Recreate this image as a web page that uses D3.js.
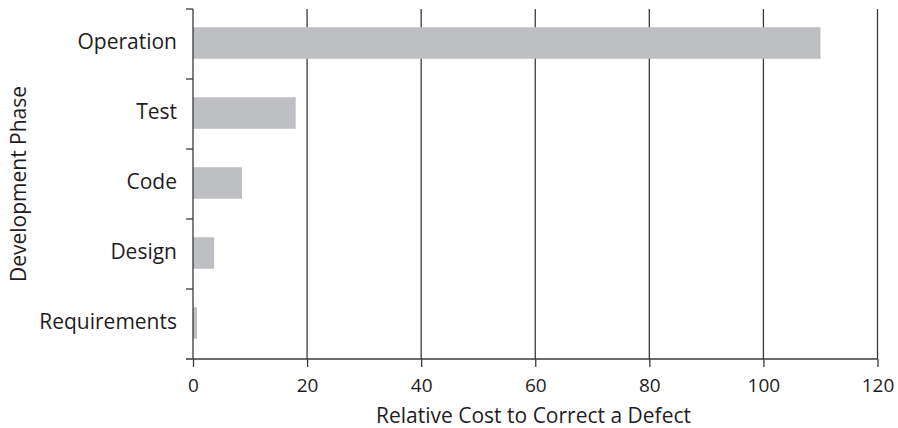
<!DOCTYPE html>
<html>
<head>
<meta charset="utf-8">
<script src="https://cdn.jsdelivr.net/npm/d3@7"></script>
<style>
	body { margin: 0; background: #fff; }
	text { font-family: "Open Sans", sans-serif; fill: #1f1d1e; }
</style>
</head>
<body>
<script>
	const phases = ["Operation", "Test", "Code", "Design", "Requirements"];
	const costs = [110, 18, 8.6, 3.7, 0.7];
	const xTicks = [0, 20, 40, 60, 80, 100, 120];

	const width = 898;
	const height = 428;
	const plotLeft = 193, plotRight = 877.5, plotTop = 9, plotBottom = 359;

	const svg = d3.select("body")
		.append("svg")
		.attr("width", width)
		.attr("height", height);

	const xScale = d3.scaleLinear()
		.domain([0, 120])
		.range([plotLeft, plotRight]);

	const yScale = d3.scaleBand()
		.domain(phases)
		.range([plotTop, plotBottom])
		.paddingInner(0.55)
		.paddingOuter(0.275);

	const lineColor = "#3a3a3a";

	//vertical gridlines
	svg.selectAll("line.grid")
		.data(xTicks.slice(1))
		.enter()
		.append("line")
		.attr("class", "grid")
		.attr("x1", d => xScale(d))
		.attr("x2", d => xScale(d))
		.attr("y1", plotTop)
		.attr("y2", plotBottom)
		.attr("stroke", lineColor)
		.attr("stroke-width", 1.3);

	//bars
	svg.selectAll("rect")
		.data(phases)
		.enter()
		.append("rect")
		.attr("x", xScale(0))
		.attr("y", d => yScale(d) - 1)
		.attr("width", (d, i) => xScale(costs[i]) - xScale(0))
		.attr("height", yScale.bandwidth())
		.attr("fill", "#bebfc2");

	//x axis
	const xAxis = svg.append("g")
		.attr("transform", "translate(0," + plotBottom + ")")
		.call(d3.axisBottom(xScale).tickValues(xTicks).tickSize(8).tickPadding(11.5).tickSizeOuter(0));
	xAxis.select(".domain").attr("stroke", lineColor).attr("stroke-width", 1.3)
		.attr("d", "M" + (plotLeft - 7) + ",0H" + plotRight);
	xAxis.selectAll(".tick line").attr("stroke", lineColor).attr("stroke-width", 1.3);
	xAxis.selectAll(".tick text").attr("font-size", 19).attr("fill", "#1f1d1e")
		.style("font-family", "'Open Sans', sans-serif");

	//y axis line and ticks between categories
	svg.append("line")
		.attr("x1", plotLeft).attr("x2", plotLeft)
		.attr("y1", plotTop).attr("y2", plotBottom)
		.attr("stroke", lineColor).attr("stroke-width", 1.3);

	const step = yScale.step();
	const yTickPos = phases.map(d => yScale(d) - step * yScale.paddingInner() / 2);
	svg.selectAll("line.ytick")
		.data(yTickPos)
		.enter()
		.append("line")
		.attr("class", "ytick")
		.attr("x1", plotLeft - 7).attr("x2", plotLeft)
		.attr("y1", d => d).attr("y2", d => d)
		.attr("stroke", lineColor).attr("stroke-width", 1.3);

	//category labels
	svg.selectAll("text.cat")
		.data(phases)
		.enter()
		.append("text")
		.attr("class", "cat")
		.attr("x", 177)
		.attr("y", d => yScale(d) + yScale.bandwidth() / 2 + 4.5)
		.attr("text-anchor", "end")
		.attr("font-size", 21)
		.text(d => d);

	//axis titles
	svg.append("text")
		.attr("x", 533.5)
		.attr("y", 423)
		.attr("text-anchor", "middle")
		.attr("font-size", 21)
		.text("Relative Cost to Correct a Defect");

	svg.append("text")
		.attr("transform", "translate(26,184) rotate(-90)")
		.attr("text-anchor", "middle")
		.attr("font-size", 21)
		.text("Development Phase");
</script>
</body>
</html>
